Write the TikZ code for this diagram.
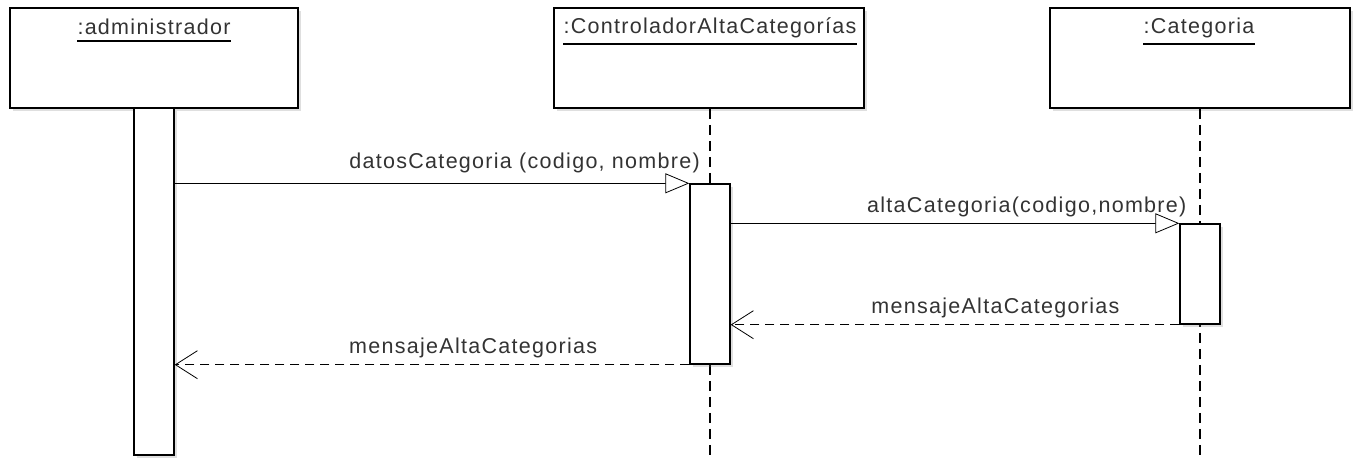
\documentclass[tikz,border=0pt]{standalone}
\usepackage{fontspec}
\setmainfont{Liberation Sans}[LetterSpace=6]
\usetikzlibrary{arrows.meta, shadows}

\begin{document}
\begin{tikzpicture}[x=1pt, y=-1pt, font=\fontsize{21.5}{24}\selectfont,
  object/.style={draw, line width=1.6pt, fill=white, inner sep=0pt, minimum height=100pt,
    drop shadow={shadow xshift=3pt, shadow yshift=-3pt, opacity=0.25}},
  bar/.style={draw, line width=1.4pt, fill=white, inner sep=0pt, minimum width=40pt,
    drop shadow={shadow xshift=3pt, shadow yshift=-3pt, opacity=0.25}},
  title/.style={anchor=base, inner sep=0pt, text=black!80},
  lifeline/.style={line width=1.2pt, dash pattern=on 10pt off 6pt},
  call/.style={line width=0.8pt, -{Triangle[open, length=24pt, width=20pt, fill=white]}},
  reply/.style={line width=0.8pt, dash pattern=on 9pt off 6pt, -{Straight Barb[length=22pt, width=28pt]}},
  msglabel/.style={anchor=base, yshift=11pt, inner sep=0pt, text=black!80}]
\useasboundingbox (0,0) rectangle (1357,460);

% objects
\node[object, minimum width=288pt] (admin) at (154,58) {};
\node[object, minimum width=310pt] (ctrl) at (709,58) {};
\node[object, minimum width=300pt] (cat) at (1200,58) {};
\node[title] (admint) at (154,35) {:administrador};
\node[title] (ctrlt) at (710,34) {:ControladorAltaCategorías};
\node[title] (catt) at (1199,34) {:Categoria};
\draw[line width=1.2pt] ([yshift=-6pt]admint.base west) -- ([yshift=-6pt]admint.base east);
\draw[line width=1.2pt] ([yshift=-10pt]ctrlt.base west) -- ([yshift=-10pt]ctrlt.base east);
\draw[line width=1.2pt] ([yshift=-10pt]catt.base west) -- ([yshift=-10pt]catt.base east);

% lifelines
\coordinate (ctrlend) at (710,460);
\coordinate (catend) at (1200,460);
\draw[lifeline] (ctrlend |- ctrl.south) -- (ctrlend);
\draw[lifeline] (catend |- cat.south) -- (catend);

% activations
\node[bar, minimum height=347pt] (adminbar) at (154,281.5) {};
\node[bar, minimum height=180pt] (ctrlbar) at (710,274) {};
\node[bar, minimum height=100pt] (catbar) at (1200,274) {};

% messages
\draw[call] (adminbar.east |- ctrlbar.north) -- node[msglabel, yshift=4pt, pos=0.68] {datosCategoria (codigo, nombre)} (ctrlbar.north west);
\draw[call] (ctrlbar.east |- catbar.north) -- node[msglabel, pos=0.66] {altaCategoria(codigo,nombre)} (catbar.north west);
\draw[reply] (catbar.south west) -- node[msglabel, pos=0.41] {mensajeAltaCategorias} (ctrlbar.east |- catbar.south);
\draw[reply] (ctrlbar.south west) -- node[msglabel, pos=0.42] {mensajeAltaCategorias} (adminbar.east |- ctrlbar.south);
\end{tikzpicture}
\end{document}
